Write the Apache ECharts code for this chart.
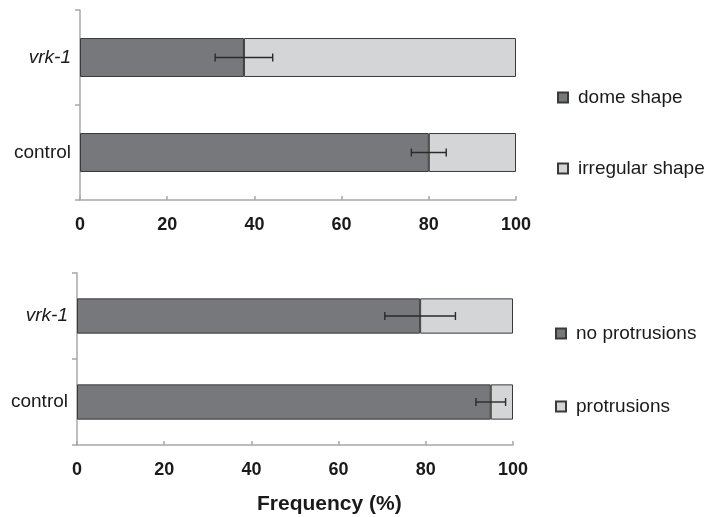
<!DOCTYPE html>
<html>
<head>
<meta charset="utf-8">
<script src="https://cdn.jsdelivr.net/npm/echarts@6/dist/echarts.min.js"></script>
<style>html,body{margin:0;padding:0;background:#fff}#c{width:709px;height:517px}</style>
</head>
<body>
<div id="c"></div>
<script>
// ---- data ----
const categories = ['control', 'vrk-1'];
const domeShape = [80.0, 37.6];
const irregularShape = [20.0, 62.4];
const domeErr = [4.0, 6.6];
const noProtrusions = [94.9, 78.7];
const protrusions = [5.1, 21.3];
const protErr = [3.4, 8.1];
const xMin = 0, xMax = 100, xStep = 20;
const axisTitle = 'Frequency (%)';

const DARK = '#77787b', LIGHT = '#d4d5d7', EDGE = '#3a3a3a', AX = '#a8a8a8';
const FONT = 'Liberation Sans, Arial, sans-serif';

const chart = echarts.init(document.getElementById('c'), null, {renderer: 'canvas'});

function errSeries(gridIdx, vals, errs) {
  return {
    type: 'custom', xAxisIndex: gridIdx, yAxisIndex: gridIdx, z: 10,
    data: vals.map((v, i) => [i, v, errs[i]]),
    encode: {x: 1, y: 0},
    renderItem: function (params, api) {
      const c = api.value(0), v = api.value(1), e = api.value(2);
      const a = api.coord([v - e, c]), b = api.coord([v + e, c]);
      const h = 4;
      const st = {stroke: '#2a2a2a', lineWidth: 1.4};
      return {type: 'group', children: [
        {type: 'line', shape: {x1: a[0], y1: a[1], x2: b[0], y2: b[1]}, style: st},
        {type: 'line', shape: {x1: a[0], y1: a[1] - h, x2: a[0], y2: a[1] + h}, style: st},
        {type: 'line', shape: {x1: b[0], y1: b[1] - h, x2: b[0], y2: b[1] + h}, style: st}
      ]};
    }
  };
}

function xAxisCfg(gridIdx) {
  return {
    type: 'value', gridIndex: gridIdx, min: xMin, max: xMax, interval: xStep,
    axisLine: {show: true, lineStyle: {color: AX, width: 1.5}},
    axisTick: {show: true, inside: true, length: 4, lineStyle: {color: AX, width: 1.5}},
    splitLine: {show: false},
    axisLabel: {color: '#1a1a1a', fontSize: 18, fontWeight: 'bold', fontFamily: FONT, margin: 16}
  };
}
function yAxisCfg(gridIdx) {
  return {
    type: 'category', gridIndex: gridIdx, data: categories,
    axisLine: {show: true, lineStyle: {color: AX, width: 1.5}},
    axisTick: {show: true, length: 5, lineStyle: {color: AX, width: 1.5}},
    axisLabel: {
      margin: 9, fontSize: 19, fontFamily: FONT, color: '#1a1a1a',
      formatter: v => v === 'vrk-1' ? '{i|' + v + '}' : v,
      rich: {i: {fontStyle: 'italic', fontSize: 19, fontFamily: FONT, color: '#1a1a1a'}}
    }
  };
}
function barSeries(name, gridIdx, vals, color) {
  return {
    name: name, type: 'bar', stack: 's' + gridIdx, xAxisIndex: gridIdx, yAxisIndex: gridIdx,
    data: vals, barWidth: '41%',
    itemStyle: {color: color, borderColor: EDGE, borderWidth: 1}
  };
}

const legendText = {fontSize: 19, fontFamily: FONT, color: '#1a1a1a', padding: [0, 0, 0, 5]};

chart.setOption({
  animation: false,
  backgroundColor: '#fff',
  title: {text: axisTitle, left: 257, top: 494, padding: 0,
    textStyle: {fontSize: 21, fontWeight: 'bold', fontFamily: FONT, color: '#1a1a1a'}},
  grid: [
    {left: 80, right: 193, top: 10, height: 190},
    {left: 77, right: 196, top: 273, height: 172}
  ],
  xAxis: [xAxisCfg(0), xAxisCfg(1)],
  yAxis: [yAxisCfg(0), yAxisCfg(1)],
  legend: [
    {data: ['dome shape', 'irregular shape'], orient: 'vertical', left: 557, top: 88, padding: 0,
      itemWidth: 10, itemHeight: 10, itemGap: 52, textStyle: legendText, icon: 'rect'},
    {data: ['no protrusions', 'protrusions'], orient: 'vertical', left: 555, top: 324, padding: 0,
      itemWidth: 10, itemHeight: 10, itemGap: 54, textStyle: legendText, icon: 'rect'}
  ],
  series: [
    barSeries('dome shape', 0, domeShape, DARK),
    barSeries('irregular shape', 0, irregularShape, LIGHT),
    errSeries(0, domeShape, domeErr),
    barSeries('no protrusions', 1, noProtrusions, DARK),
    barSeries('protrusions', 1, protrusions, LIGHT),
    errSeries(1, noProtrusions, protErr)
  ]
});
</script>
</body>
</html>
